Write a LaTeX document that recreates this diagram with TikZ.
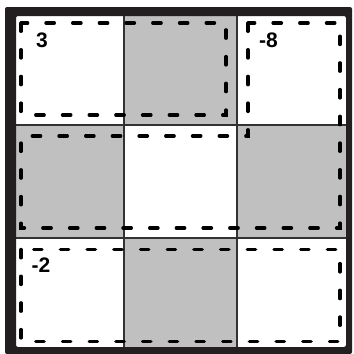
\documentclass[tikz,border=0pt]{standalone}
\usepackage{fontspec}
\setmainfont{Liberation Sans}
\definecolor{cellgray}{RGB}{192,192,192}
\definecolor{framecol}{RGB}{35,31,32}
\definecolor{gridcol}{RGB}{50,50,50}
\tikzset{
  region/.style={draw=black, line width=3.4pt, line cap=round, line join=miter,
    dash pattern=on 8.3pt off 18.4pt},
  graycell/.style={fill=cellgray, draw=none},
  gridline/.style={draw=gridcol, line width=1.2pt},
  lbl/.style={inner sep=0pt, font=\fontsize{21}{21}\selectfont\bfseries}
}
\begin{document}
\begin{tikzpicture}[x=1pt,y=-1pt]
\useasboundingbox (0,0) rectangle (354,354);
% background
\fill[white] (0,0) rectangle (354,354);
% gray cells (checkerboard)
\path[graycell] (124,16) rectangle (237,125);
\path[graycell] (16,125) rectangle (124,238);
\path[graycell] (237,125) rectangle (346,238);
\path[graycell] (124,238) rectangle (237,347);
% grid lines
\draw[gridline] (124,16) -- (124,347);
\draw[gridline] (237,16) -- (237,347);
\draw[gridline] (16,125) -- (346,125);
\draw[gridline] (16,238) -- (346,238);
% thick frame
\fill[framecol, even odd rule, rounded corners=2pt] (5,7) rectangle (352,354) (16,16) rectangle (346,347);
% dashed regions
\draw[region] (21,23) -- (21,115) -- (226,115) -- (226,23) -- cycle;
\draw[region] (248,23) -- (248,136) -- (21,136) -- (21,228) -- (340,228) -- (340,23) -- cycle;
\draw[region] (21,249.5) -- (21,341.5) -- (340,341.5) -- (340,249.5) -- cycle;
% labels
\node[lbl] (l3) at (42,40.5) {3};
\node[lbl] (l8) at (268.5,40) {-8};
\node[lbl] (l2) at (41,265) {-2};
\end{tikzpicture}
\end{document}
